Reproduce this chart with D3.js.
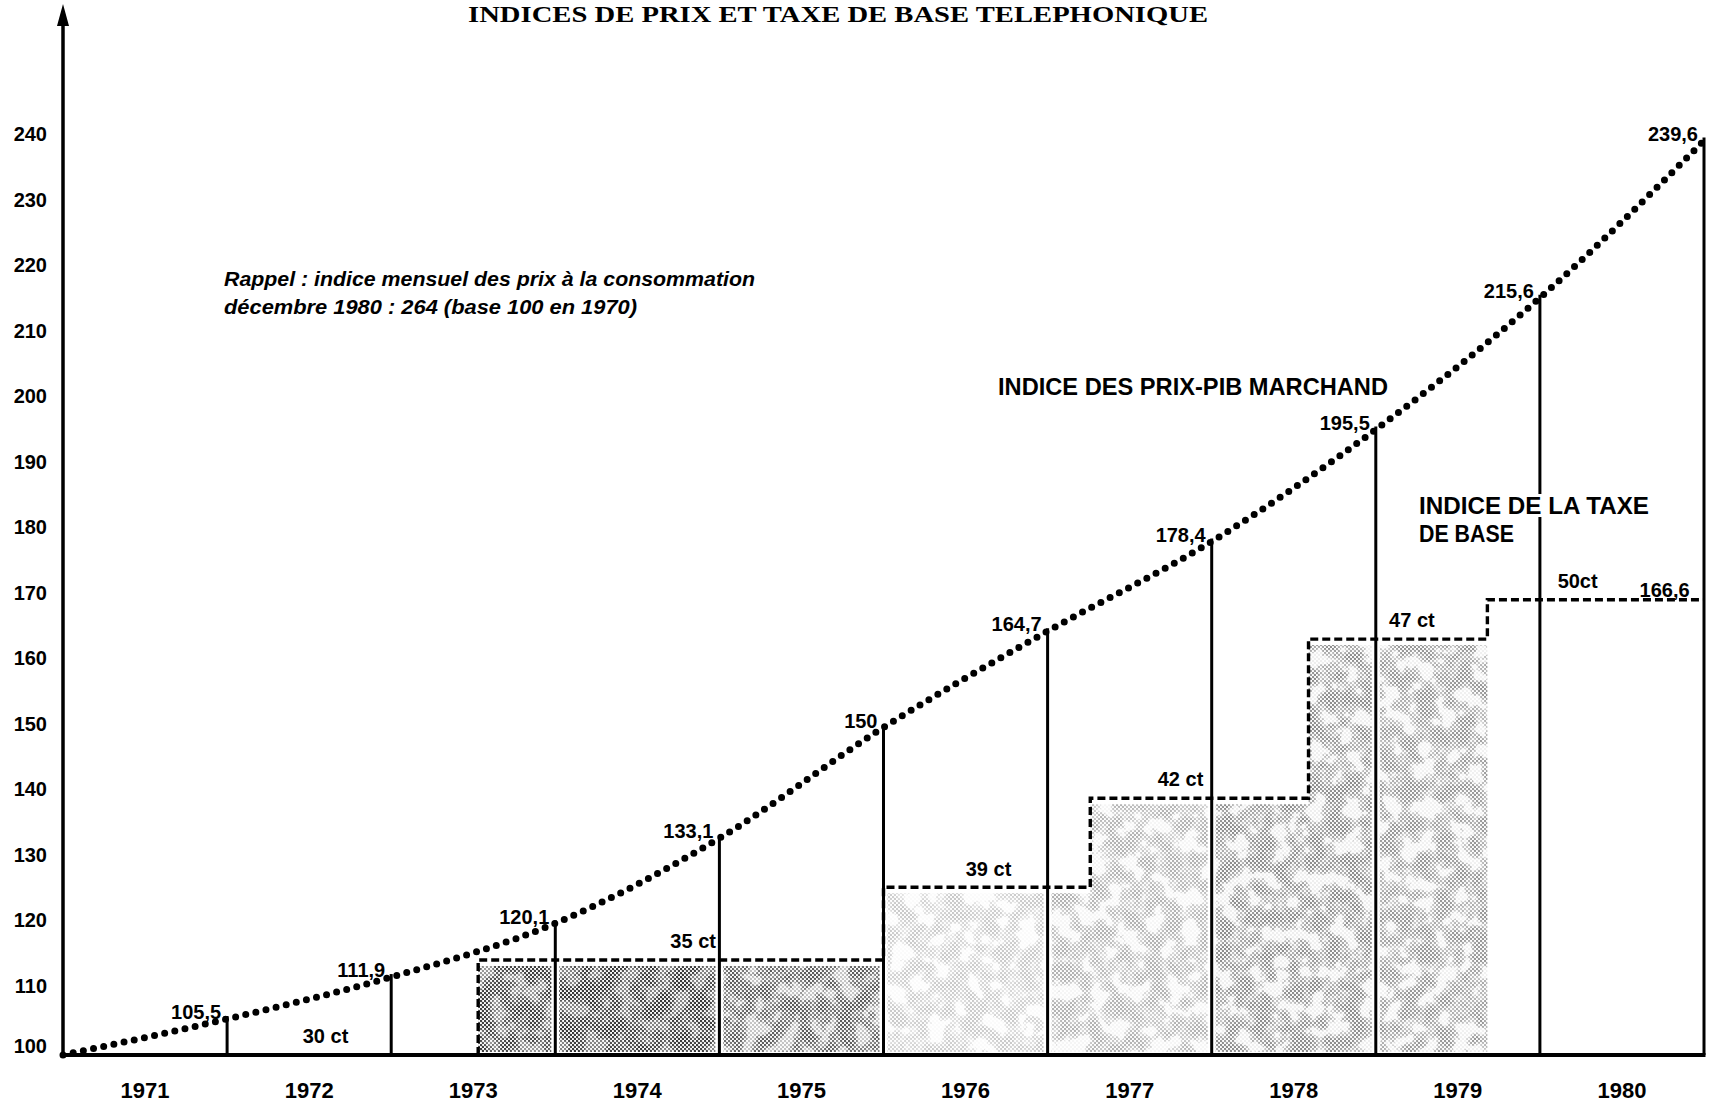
<!DOCTYPE html>
<html>
<head>
<meta charset="utf-8">
<script src="https://cdn.jsdelivr.net/npm/d3@7"></script>
<style>
  html, body { margin: 0; padding: 0; background: #fff; }
  svg { display: block; }
</style>
</head>
<body>
<svg id="chart"></svg>
<script>
// chart - indices de prix et taxe de base téléphonique, 1971-1980

const YEARS = ["1971","1972","1973","1974","1975","1976","1977","1978","1979","1980"];

// PIB marchand price index: base at start of 1971, then value at end of each year
const PIB_T      = [1971, 1972, 1973, 1974, 1975, 1976, 1977, 1978, 1979, 1980, 1981];
const PIB_INDEX  = [100, 105.5, 111.9, 120.1, 133.1, 150, 164.7, 178.4, 195.5, 215.6, 239.6];
const PIB_LABELS = ["", "105,5", "111,9", "120,1", "133,1", "150", "164,7", "178,4", "195,5", "215,6", "239,6"];

// basic telephone charge: date of each change and level as drawn on the index scale
const TAX_T       = [1971, 1973.53, 1976.0, 1977.26, 1978.59, 1979.68];
const TAX_LEVELS  = [100, 114.5, 125.6, 139.2, 163.5, 169.5];
const TAX_LABELS  = ["30 ct", "35 ct", "39 ct", "42 ct", "47 ct", "50ct"];
const TAX_LABEL_T = [1972.6, 1974.84, 1976.64, 1977.81, 1979.22, 1980.23];

const Y_TICKS = [100, 110, 120, 130, 140, 150, 160, 170, 180, 190, 200, 210, 220, 230, 240];

// halftone under the charge steps: even base layer + blotchy layer, per year
const SHADE_BASE   = { "1973": 0.42, "1974": 0.5, "1975": 0.24, "1976": 0.02, "1977": 0.04, "1978": 0.07, "1979": 0.06 };
const SHADE_BLOTCH = { "1973": 0.6, "1974": 0.6, "1975": 0.55, "1976": 0.2, "1977": 0.28, "1978": 0.42, "1979": 0.38 };

const W = 1716, H = 1107;
const FONT = "'Liberation Sans',Arial,'DejaVu Sans',sans-serif";

const svg = d3.select("#chart").attr("width", W).attr("height", H);

// ── Scales ────────────────────────────────────────────────────
const xs = d3.scaleLinear().domain([1971, 1981]).range([63, 1704]);
const ys = d3.scaleLinear().domain([100, 240]).range([1055, 138]);

// ── Halftone pattern + blotchy noise mask ─────────────────────
const defs = svg.append("defs");
const pat = defs.append("pattern").attr("id", "dots")
  .attr("width", 4).attr("height", 4).attr("patternUnits", "userSpaceOnUse");
pat.append("circle").attr("cx", 1).attr("cy", 1).attr("r", 1.2).attr("fill", "#000");
pat.append("circle").attr("cx", 3).attr("cy", 3).attr("r", 1.2).attr("fill", "#000");

const noise = defs.append("filter").attr("id", "noise")
  .attr("x", 0).attr("y", 0).attr("width", 1).attr("height", 1);
noise.append("feTurbulence").attr("type", "fractalNoise")
  .attr("baseFrequency", "0.055").attr("numOctaves", 3).attr("seed", 7);
noise.append("feColorMatrix").attr("type", "matrix")
  .attr("values", "1 0 0 0 0  1 0 0 0 0  1 0 0 0 0  0 0 0 0 1");
const ct = noise.append("feComponentTransfer");
["feFuncR", "feFuncG", "feFuncB"].forEach(f =>
  ct.append(f).attr("type", "linear").attr("slope", 3.6).attr("intercept", -1.4));

defs.append("mask").attr("id", "blotch")
  .attr("maskUnits", "userSpaceOnUse")
  .attr("x", 0).attr("y", 0).attr("width", W).attr("height", H)
  .append("rect").attr("x", 0).attr("y", 0).attr("width", W).attr("height", H)
  .attr("fill", "#fff").attr("filter", "url(#noise)");

// shaded area follows the steps up to the last change
const stepPts = TAX_T.slice(1).map((t, i) => [t, TAX_LEVELS[i + 1]]);
const stepArea = d3.area()
  .x(d => xs(d[0])).y0(ys(100) - 3).y1(d => ys(d[1]) + 6)
  .curve(d3.curveStepAfter);

const baseG = svg.append("g");
const blotchG = svg.append("g").attr("mask", "url(#blotch)");
YEARS.forEach(y => {
  if (!SHADE_BLOTCH[y]) return;
  const yr = +y;
  defs.append("clipPath").attr("id", "clip" + y)
    .append("rect")
    .attr("x", xs(yr) + 4).attr("y", 0)
    .attr("width", xs(yr + 1) - xs(yr) - 8).attr("height", H);
  [[baseG, SHADE_BASE[y]], [blotchG, SHADE_BLOTCH[y]]].forEach(([grp, op]) => {
    grp.append("path")
      .attr("d", stepArea(stepPts))
      .attr("fill", "url(#dots)")
      .attr("opacity", op)
      .attr("clip-path", `url(#clip${y})`);
  });
});

// ── Title ─────────────────────────────────────────────────────
svg.append("text")
  .attr("x", 838).attr("y", 22)
  .attr("text-anchor", "middle")
  .attr("font-family", "'Liberation Serif','DejaVu Serif',serif")
  .attr("font-weight", "700").attr("font-size", 24)
  .attr("textLength", 740).attr("lengthAdjust", "spacingAndGlyphs")
  .text("INDICES DE PRIX ET TAXE DE BASE TELEPHONIQUE");

// ── Axes ──────────────────────────────────────────────────────
svg.append("line")
  .attr("x1", xs(1971)).attr("x2", xs(1971))
  .attr("y1", ys(100) + 1).attr("y2", 14)
  .attr("stroke", "#000").attr("stroke-width", 3.5);
svg.append("path")
  .attr("d", `M${xs(1971)},4 L${xs(1971) - 6},26 L${xs(1971) + 6},26 Z`)
  .attr("fill", "#000");

svg.append("line")
  .attr("x1", xs(1971) - 1).attr("x2", xs(1981) + 1.5)
  .attr("y1", ys(100)).attr("y2", ys(100))
  .attr("stroke", "#000").attr("stroke-width", 4);

svg.append("g").selectAll("text").data(Y_TICKS).join("text")
  .attr("x", 47)
  .attr("y", d => ys(d) + (d === 100 ? -9 : -4))
  .attr("dy", "0.36em")
  .attr("text-anchor", "end")
  .attr("font-family", FONT).attr("font-weight", "700").attr("font-size", 20)
  .text(d => d);

svg.append("g").selectAll("text").data(YEARS).join("text")
  .attr("x", d => xs(+d + 0.5))
  .attr("y", 1090).attr("dy", "0.36em")
  .attr("text-anchor", "middle")
  .attr("font-family", FONT).attr("font-weight", "700").attr("font-size", 22)
  .text(d => d);

// ── Year-end verticals ────────────────────────────────────────
const pib = PIB_T.map((t, i) => ({ t, v: PIB_INDEX[i], label: PIB_LABELS[i] }));

svg.append("g").selectAll("line").data(pib.slice(1)).join("line")
  .attr("x1", d => xs(d.t)).attr("x2", d => xs(d.t))
  .attr("y1", ys(100)).attr("y2", d => ys(d.v) - 3)
  .attr("stroke", "#000").attr("stroke-width", 3);

// ── Charge steps (dashed) ─────────────────────────────────────
const dashPts = [[TAX_T[1], TAX_LEVELS[0]]];
TAX_T.slice(1).forEach((t, i) => {
  dashPts.push([t, TAX_LEVELS[i]]);
  dashPts.push([t, TAX_LEVELS[i + 1]]);
});
dashPts.push([1981, TAX_LEVELS[TAX_LEVELS.length - 1]]);

svg.append("path")
  .attr("d", d3.line().x(d => xs(d[0])).y(d => ys(d[1]))(dashPts))
  .attr("fill", "none")
  .attr("stroke", "#000").attr("stroke-width", 3.4)
  .attr("stroke-dasharray", "8 4");

// ── PIB curve (dotted) ────────────────────────────────────────
svg.append("path")
  .attr("d", d3.line().x(d => xs(d.t)).y(d => ys(d.v)).curve(d3.curveMonotoneX)(pib))
  .attr("fill", "none")
  .attr("stroke", "#000").attr("stroke-width", 7)
  .attr("stroke-linecap", "round")
  .attr("stroke-dasharray", "0 10.4");

// ── Value labels ──────────────────────────────────────────────
svg.append("g").selectAll("text").data(pib.slice(1)).join("text")
  .attr("x", d => xs(d.t) - 6)
  .attr("y", d => ys(d.v) - 7).attr("dy", "0.36em")
  .attr("text-anchor", "end")
  .attr("font-family", FONT).attr("font-weight", "700").attr("font-size", 20)
  .text(d => d.label);

svg.append("g").selectAll("text").data(TAX_LABELS).join("text")
  .attr("x", (d, i) => xs(TAX_LABEL_T[i]))
  .attr("y", (d, i) => ys(TAX_LEVELS[i]) - 19).attr("dy", "0.36em")
  .attr("text-anchor", "middle")
  .attr("font-family", FONT).attr("font-weight", "700").attr("font-size", 20)
  .text(d => d);

svg.append("text")
  .attr("x", xs(1980.76)).attr("y", ys(TAX_LEVELS[5]) - 10).attr("dy", "0.36em")
  .attr("text-anchor", "middle")
  .attr("font-family", FONT).attr("font-weight", "700").attr("font-size", 20)
  .text("166,6");

// ── Annotations ───────────────────────────────────────────────
const note = svg.append("g")
  .attr("font-family", FONT).attr("font-weight", "700")
  .attr("font-style", "italic").attr("font-size", 20);
note.append("text").attr("x", 224).attr("y", 279).attr("dy", "0.36em")
  .attr("textLength", 531).attr("lengthAdjust", "spacingAndGlyphs")
  .text("Rappel : indice mensuel des prix à la consommation");
note.append("text").attr("x", 224).attr("y", 307).attr("dy", "0.36em")
  .attr("textLength", 413).attr("lengthAdjust", "spacingAndGlyphs")
  .text("décembre 1980 : 264 (base 100 en 1970)");

svg.append("text")
  .attr("x", 998).attr("y", 387).attr("dy", "0.36em")
  .attr("font-family", FONT).attr("font-weight", "700").attr("font-size", 23)
  .attr("textLength", 390).attr("lengthAdjust", "spacingAndGlyphs")
  .text("INDICE DES PRIX-PIB MARCHAND");

const taxLbl = svg.append("g")
  .attr("font-family", FONT).attr("font-weight", "700").attr("font-size", 23)
  .attr("stroke", "#fff").attr("stroke-width", 6).attr("paint-order", "stroke");
taxLbl.append("text").attr("x", 1419).attr("y", 506).attr("dy", "0.36em")
  .attr("textLength", 230).attr("lengthAdjust", "spacingAndGlyphs")
  .text("INDICE DE LA TAXE");
taxLbl.append("text").attr("x", 1419).attr("y", 534).attr("dy", "0.36em")
  .attr("textLength", 95).attr("lengthAdjust", "spacingAndGlyphs")
  .text("DE BASE");
</script>
</body>
</html>
